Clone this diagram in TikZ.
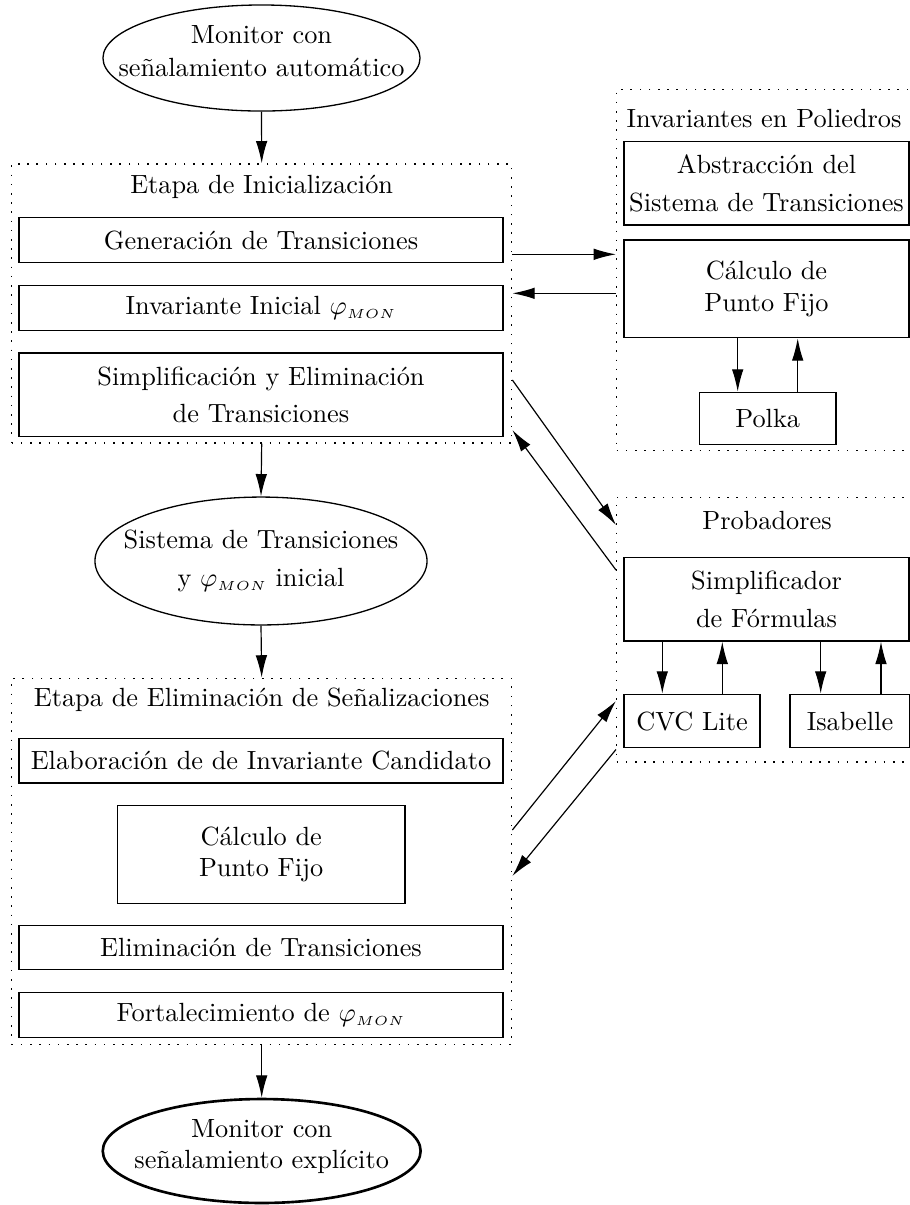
\documentclass[tikz,border=0pt]{standalone}
\usepackage{amsmath}
\usepackage{tikz}
\usetikzlibrary{positioning,arrows.meta,shapes.geometric}

\tikzset{
	caja/.style={draw,line width=0.5pt,inner sep=0pt,align=center},
	grupo/.style={draw,line width=0.5pt,dash pattern=on 0.6pt off 2.9pt,inner sep=0pt},
	elipse/.style={draw,ellipse,line width=0.5pt,inner sep=0pt},
	texto/.style={align=center,inner sep=0pt},
	flecha/.style={-{Latex[length=8.5pt,width=4.4pt]},line width=0.45pt}
}
\newcommand{\fmon}{$\varphi_{\scriptscriptstyle MON}$}

\begin{document}
\begin{tikzpicture}[x=0.38pt,y=-0.38pt]
				\useasboundingbox (0,0) rectangle (910,1205);
				\clip (0,0) rectangle (910,1205);
				% columna izquierda
				\node [elipse,minimum width=120.5pt,minimum height=40.3pt] (mon1) at (261.5,58) {};
				\node [texto] (tmon1) at (261.5,51) {Monitor con\\[0.8pt]se\~nalamiento autom\'atico};
				\node [grupo,minimum width=190pt,minimum height=106pt] (init) at (261.7,303.5) {};
				\node [] (tini) at (261.7,187) {Etapa de Inicializaci\'on};
				\node [caja,minimum width=183.9pt,minimum height=17.1pt] (gen) at (261,240.2) {Generaci\'on de Transiciones};
				\node [caja,minimum width=183.9pt,minimum height=17.1pt] (inv) at (261,308.2) {Invariante Inicial \fmon};
				\node [caja,minimum width=183.9pt,minimum height=31.8pt] (simp) at (261,394.8) {Simplificaci\'on y Eliminaci\'on\\[2.4pt]de Transiciones};
				\node [elipse,minimum width=126.2pt,minimum height=48.6pt] (sist) at (261,561) {};
				\node [texto] (tsist) at (261,561) {Sistema de Transiciones\\[2.4pt]y \fmon{} inicial};
				\node [grupo,minimum width=190pt,minimum height=139.2pt] (elim) at (261.7,861.4) {};
				\node [] (telim) at (261.7,700) {Etapa de Eliminaci\'on de Se\~nalizaciones};
				\node [caja,minimum width=183.9pt,minimum height=17pt] (elab) at (261,760.7) {Elaboraci\'on de de Invariante Candidato};
				\node [caja,minimum width=109.3pt,minimum height=37.2pt] (calc2) at (261.2,854.3) {C\'alculo de\\Punto Fijo};
				\node [caja,minimum width=183.9pt,minimum height=16.8pt] (elimt) at (261,947.6) {Eliminaci\'on de Transiciones};
				\node [caja,minimum width=183.9pt,minimum height=17pt] (fort) at (261,1015) {Fortalecimiento de \fmon};
				\node [elipse,line width=1pt,minimum width=120.8pt,minimum height=39.5pt] (mon2) at (261.7,1151) {};
				\node [texto] (tmon2) at (261.7,1146.5) {Monitor con\\se\~nalamiento expl\'icito};
				% columna derecha
				\node [grupo,minimum width=114.5pt,minimum height=137.3pt] (poli) at (767.3,270) {};
				\node [] (tpoli) at (764,118) {Invariantes en Poliedros};
				\node [caja,minimum width=108.3pt,minimum height=31.7pt] (abs) at (766.5,183.3) {Abstracci\'on del\\[2.4pt]Sistema de Transiciones};
				\node [caja,minimum width=108.3pt,minimum height=37.1pt] (calc1) at (766.5,288.8) {C\'alculo de\\Punto Fijo};
				\node [caja,minimum width=51.9pt,minimum height=19.9pt] (polka) at (767.7,418.5) {Polka};
				\node [grupo,minimum width=114.5pt,minimum height=100.6pt] (prob) at (767.3,629.6) {};
				\node [] (tprob) at (767,520) {Probadores};
				\node [caja,minimum width=108.3pt,minimum height=31.7pt] (simpf) at (766.5,599.3) {Simplificador\\[2.4pt]de F\'ormulas};
				\node [caja,minimum width=51.7pt,minimum height=20.3pt] (cvc) at (692,721) {CVC Lite};
				\node [caja,minimum width=45.6pt,minimum height=20.3pt] (isa) at (850,721) {Isabelle};
				% alturas y columnas de las flechas
				\coordinate [] (ya) at (0,254.3);
				\coordinate [] (yb) at (0,293.3);
				\coordinate [] (yc) at (0,380);
				\coordinate [] (yd) at (0,525);
				\coordinate [] (ye) at (0,570);
				\coordinate [] (yf) at (0,430);
				\coordinate [] (yg) at (0,830);
				\coordinate [] (yh) at (0,701);
				\coordinate [] (yi) at (0,749.5);
				\coordinate [] (yj) at (0,876);
				\coordinate [] (xa) at (737.7,0);
				\coordinate [] (xb) at (797.7,0);
				\coordinate [] (xc) at (662.3,0);
				\coordinate [] (xd) at (722.3,0);
				\coordinate [] (xe) at (820.7,0);
				\coordinate [] (xf) at (881,0);
				% flechas
				\path[flecha] (mon1.south) edge (init.north);
				\path[flecha] (init.south) edge (sist.north);
				\path[flecha] (sist.south) edge (elim.north);
				\path[flecha] (elim.south) edge (mon2.north);
				\path[flecha] (init.east |- ya) edge (poli.west |- ya);
				\path[flecha] (poli.west |- yb) edge (init.east |- yb);
				\path[flecha] (init.east |- yc) edge (prob.west |- yd);
				\path[flecha] (prob.west |- ye) edge (init.east |- yf);
				\path[flecha] (elim.east |- yg) edge (prob.west |- yh);
				\path[flecha] (prob.west |- yi) edge (elim.east |- yj);
				\path[flecha] (calc1.south -| xa) edge (polka.north -| xa);
				\path[flecha] (polka.north -| xb) edge (calc1.south -| xb);
				\path[flecha] (simpf.south -| xc) edge (cvc.north -| xc);
				\path[flecha] (cvc.north -| xd) edge (simpf.south -| xd);
				\path[flecha] (simpf.south -| xe) edge (isa.north -| xe);
				\path[flecha] (isa.north -| xf) edge (simpf.south -| xf);
\end{tikzpicture}
\end{document}
